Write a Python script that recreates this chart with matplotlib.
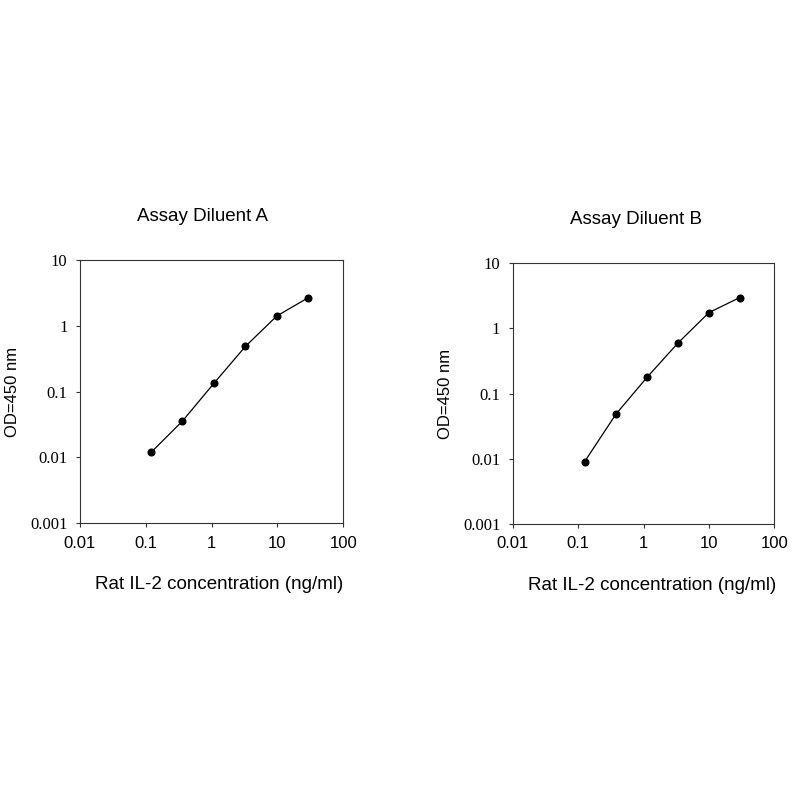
import matplotlib
matplotlib.use('Agg')
import matplotlib.pyplot as plt
from matplotlib.ticker import FixedLocator, NullLocator

# concentrations (ng/ml)
conc_a = [0.12, 0.36, 1.08, 3.27, 9.8, 29.4]
conc_b = [0.125, 0.377, 1.13, 3.37, 10.0, 29.5]
# OD at 450 nm
od_a = [0.0119, 0.0356, 0.133, 0.487, 1.41, 2.67]
od_b = [0.0090, 0.0483, 0.178, 0.60, 1.75, 2.97]

titles = ['Assay Diluent A', 'Assay Diluent B']
x_ticks = [0.01, 0.1, 1, 10, 100]
x_labels = ['0.01', '0.1', '1', '10', '100']
y_ticks = [0.001, 0.01, 0.1, 1, 10]
y_labels = ['0.001', '0.01', '0.1', '1', '10']

sans = ['Liberation Sans', 'DejaVu Sans']
serif = ['Liberation Serif', 'DejaVu Serif']

fig = plt.figure(figsize=(8, 8), dpi=100)
positions = [[0.100, 0.346, 0.329, 0.329], [0.641, 0.345, 0.327, 0.326]]
data = [(conc_a, od_a), (conc_b, od_b)]
title_pads = [28, 28.5]
title_x = [0.466, 0.47]
xlabel_x = [0.53, 0.534]

for i, (pos, (xs, ys), title) in enumerate(zip(positions, data, titles)):
    ax = fig.add_axes(pos)
    ax.plot(xs, ys, color='black', lw=0.9, marker='o', markersize=4.8)
    ax.set_xscale('log')
    ax.set_yscale('log')
    ax.set_xlim(0.01, 100)
    ax.set_ylim(0.001, 10)
    ax.xaxis.set_major_locator(FixedLocator(x_ticks))
    ax.yaxis.set_major_locator(FixedLocator(y_ticks))
    ax.xaxis.set_minor_locator(NullLocator())
    ax.yaxis.set_minor_locator(NullLocator())
    ax.set_xticklabels(x_labels, family=sans, fontsize=12)
    ax.set_yticklabels(y_labels, family=serif, fontsize=12)
    ax.tick_params(direction='out', length=3, width=0.8, color='#333333', pad=6)
    for s in ax.spines.values():
        s.set_color('#333333')
        s.set_linewidth(0.8)
    ax.set_title(title, family=sans, fontsize=13.5, pad=title_pads[i], x=title_x[i])
    ax.set_xlabel('Rat IL-2 concentration (ng/ml)', family=sans, fontsize=13.5,
                  labelpad=18.5, x=xlabel_x[i])
    ax.set_ylabel('OD=450 nm', family=sans, fontsize=12, labelpad=7)

fig.savefig('out.png', dpi=100, facecolor='white')
